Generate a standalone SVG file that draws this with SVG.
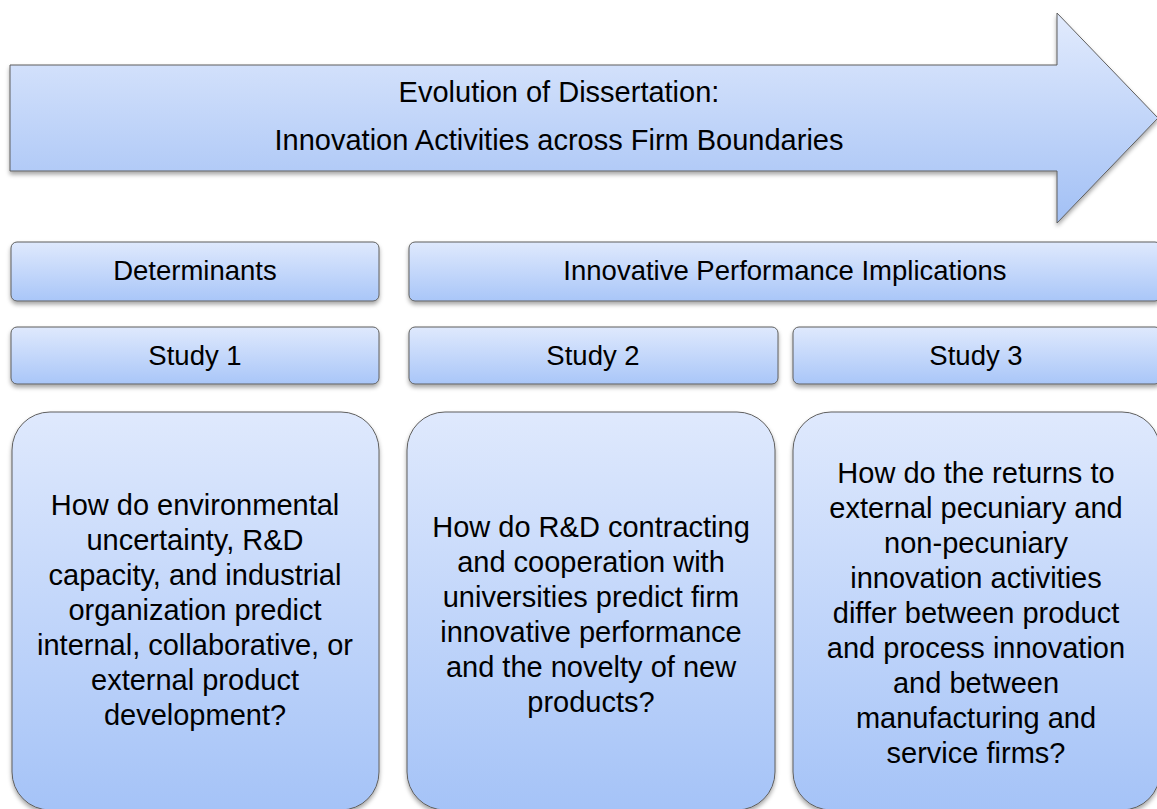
<svg xmlns="http://www.w3.org/2000/svg" width="1157" height="809" viewBox="0 0 1157 809">
  <defs>
    <linearGradient id="gArrow" x1="0" y1="0" x2="0" y2="1">
      <stop offset="0" stop-color="#e2ebfd"/>
      <stop offset="1" stop-color="#a2c0f5"/>
    </linearGradient>
    <linearGradient id="gBox" x1="0" y1="0" x2="0" y2="1">
      <stop offset="0" stop-color="#dfe9fd"/>
      <stop offset="1" stop-color="#a9c6f8"/>
    </linearGradient>
    <linearGradient id="gBig" x1="0" y1="0" x2="0" y2="1">
      <stop offset="0" stop-color="#dfe9fd"/>
      <stop offset="1" stop-color="#a5c3f7"/>
    </linearGradient>
    <filter id="shadow" x="-5%" y="-10%" width="110%" height="125%">
      <feDropShadow dx="0" dy="3" stdDeviation="2" flood-color="#000" flood-opacity="0.35"/>
    </filter>
  </defs>
  <style>
    .shape { stroke: #5f5f5f; stroke-width: 1; filter: url(#shadow); }
    .box { fill: url(#gBox); }
    .big { fill: url(#gBig); }
    text { font-family: "Liberation Sans", Arial, sans-serif; fill: #000; text-anchor: middle; }
    .title { font-size: 29px; }
    .label { font-size: 27.5px; }
    .body { font-size: 29px; }
  </style>

  <rect width="1157" height="809" fill="#ffffff"/>

  <!-- Big arrow banner -->
  <g id="arrow">
    <path class="shape" fill="url(#gArrow)" d="M10,65 H1057 V13 L1158,118 L1057,223 V171 H10 Z"/>
    <text class="title" x="559" y="102">Evolution of Dissertation:</text>
    <text class="title" x="559" y="150">Innovation Activities across Firm Boundaries</text>
  </g>

  <!-- Category headers -->
  <g id="determinants">
    <rect class="shape box" x="11" y="242" width="368" height="59" rx="6"/>
    <text class="label" x="195" y="280">Determinants</text>
  </g>
  <g id="implications">
    <rect class="shape box" x="409" y="242" width="752" height="59" rx="6"/>
    <text class="label" x="785" y="280">Innovative Performance Implications</text>
  </g>

  <!-- Study headers -->
  <g id="study1">
    <rect class="shape box" x="11" y="327" width="368" height="57" rx="6"/>
    <text class="label" x="195" y="365">Study 1</text>
  </g>
  <g id="study2">
    <rect class="shape box" x="409" y="327" width="369" height="57" rx="6"/>
    <text class="label" x="593" y="365">Study 2</text>
  </g>
  <g id="study3">
    <rect class="shape box" x="793" y="327" width="368" height="57" rx="6"/>
    <text class="label" x="976" y="365">Study 3</text>
  </g>

  <!-- Research questions -->
  <g id="question1">
    <rect class="shape big" x="12" y="412" width="367" height="398" rx="38"/>
    <text class="body" x="195" y="515">How do environmental</text>
    <text class="body" x="195" y="550">uncertainty, R&amp;D</text>
    <text class="body" x="195" y="585">capacity, and industrial</text>
    <text class="body" x="195" y="620">organization predict</text>
    <text class="body" x="195" y="655">internal, collaborative, or</text>
    <text class="body" x="195" y="690">external product</text>
    <text class="body" x="195" y="725">development?</text>
  </g>
  <g id="question2">
    <rect class="shape big" x="407" y="412" width="368" height="398" rx="38"/>
    <text class="body" x="591" y="537">How do R&amp;D contracting</text>
    <text class="body" x="591" y="572">and cooperation with</text>
    <text class="body" x="591" y="607">universities predict firm</text>
    <text class="body" x="591" y="642">innovative performance</text>
    <text class="body" x="591" y="677">and the novelty of new</text>
    <text class="body" x="591" y="712">products?</text>
  </g>
  <g id="question3">
    <rect class="shape big" x="793" y="412" width="367" height="398" rx="38"/>
    <text class="body" x="976" y="483">How do the returns to</text>
    <text class="body" x="976" y="518">external pecuniary and</text>
    <text class="body" x="976" y="553">non-pecuniary</text>
    <text class="body" x="976" y="588">innovation activities</text>
    <text class="body" x="976" y="623">differ between product</text>
    <text class="body" x="976" y="658">and process innovation</text>
    <text class="body" x="976" y="693">and between</text>
    <text class="body" x="976" y="728">manufacturing and</text>
    <text class="body" x="976" y="763">service firms?</text>
  </g>
</svg>
